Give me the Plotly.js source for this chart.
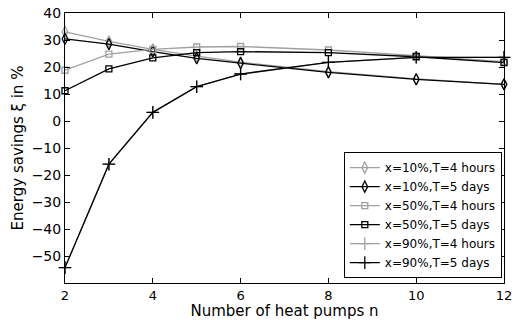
<!DOCTYPE html>
<html><head><meta charset="utf-8">
<script src="https://cdn.plot.ly/plotly-3.0.1.min.js"></script>
<style>html,body{margin:0;padding:0;background:#fff}</style>
</head><body><div id="chart" style="width:516px;height:320px"></div>
<script>
const nPumps = [2, 3, 4, 5, 6, 8, 10, 12];
const names = ["x=10%,T=4 hours","x=10%,T=5 days","x=50%,T=4 hours","x=50%,T=5 days","x=90%,T=4 hours","x=90%,T=5 days"];
const x10_4h = [33, 29.5, 26.5, 24, 21.8, 18.3, 15.6, 13.6];
const x10_5d = [30.4, 28.5, 25.7, 23.2, 21.4, 18, 15.4, 13.6];
const x50_4h = [18.8, 24.8, 26.5, 27.4, 27.6, 26.3, 24.2, 22];
const x50_5d = [11.2, 19.3, 23.4, 25.3, 25.7, 25.3, 23.8, 21.6];
const x90_4h = [-54.3, -16, 3.2, 12.7, 17.4, 21.7, 23.6, 23.6];
const x90_5d = [-54.3, -16, 3.2, 12.7, 17.4, 21.7, 23.6, 23.6];
const series = [x10_4h, x10_5d, x50_4h, x50_5d, x90_4h, x90_5d];
const colors = ["#a0a0a0","#000000","#a0a0a0","#000000","#a0a0a0","#000000"];
const symbols = ["diamond-tall-open","diamond-tall-open","square-open","square-open","cross-thin-open","cross-thin-open"];
const sizes = [8,8,6,6,9,9];
const traces = series.map((ys,i)=>({
  x: nPumps, y: ys, name: names[i], type:'scatter', mode:'lines+markers', cliponaxis:false,
  line:{color:colors[i], width:1.3},
  marker:{symbol:symbols[i], size:sizes[i], color:colors[i], line:{color:colors[i], width:1.3}}
}));
const font = {family:'"DejaVu Sans", "Liberation Sans", sans-serif', color:'#000', size:13};
const layout = {
  width:516, height:320, margin:{l:65, r:12, t:13, b:37},
  paper_bgcolor:'#fff', plot_bgcolor:'#fff', font:font, showlegend:true,
  xaxis:{range:[2,12], tickvals:[2,4,6,8,10,12], ticks:'inside', ticklen:5, tickcolor:'#000',
    showline:true, linecolor:'#000', linewidth:1, mirror:'ticks', showgrid:false, zeroline:false,
    tickfont:{size:13}, ticklabelstandoff:0,
    title:{text:'Number of heat pumps n', standoff:0, font:{size:15}}},
  yaxis:{range:[-60,40], tickvals:[-50,-40,-30,-20,-10,0,10,20,30,40], ticks:'inside', ticklen:5, tickcolor:'#000',
    showline:true, linecolor:'#000', linewidth:1, mirror:'ticks', showgrid:false, zeroline:false,
    tickformat:'d', ticklabelstandoff:0, tickfont:{size:14},
    title:{text:'Energy savings ξ in %', standoff:4, font:{size:15}}},
  legend:{x:0.995, y:0.018, xanchor:'right', yanchor:'bottom', bordercolor:'#000', borderwidth:1,
    bgcolor:'#fff', font:{size:12}, tracegroupgap:0, itemwidth:30}
};
Plotly.newPlot('chart', traces, layout, {displayModeBar:false, staticPlot:true});
</script></body></html>
